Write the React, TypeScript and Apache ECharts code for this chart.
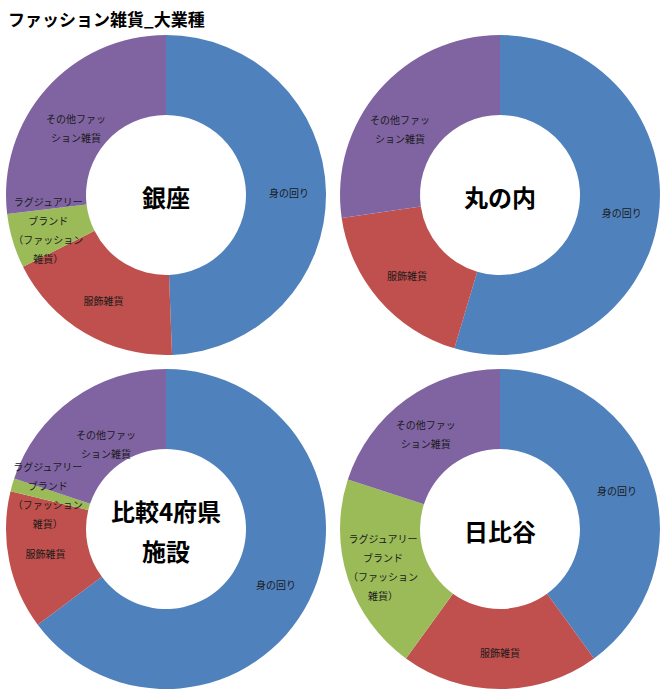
import React, { useEffect, useRef } from 'react';
import * as echarts from 'echarts';

// categories, clockwise from 12 o'clock
const categories = [
  '身の回り',
  '服飾雑貨',
  'ラグジュアリーブランド（ファッション雑貨）',
  'その他ファッション雑貨'
];
// labels as wrapped inside the slices
const sliceLabels = [
  '身の回り',
  '服飾雑貨',
  'ラグジュアリー\nブランド\n（ファッション\n雑貨）',
  'その他ファッ\nション雑貨'
];
const colors = ['#4F81BD', '#C0504D', '#9BBB59', '#8064A2'];

// share (%) per area
const ginza = [49.4, 18.2, 5.5, 26.9];
const marunouchi = [54.6, 18.1, 0, 27.3];
const hikaku = [64.8, 14.0, 1.3, 19.9];
const hibiya = [40.0, 20.0, 20.0, 20.0];

const areaNames = ['銀座', '丸の内', '比較4府県\n施設', '日比谷'];
const areaValues = [ginza, marunouchi, hikaku, hibiya];
const centers: [number, number][] = [
  [166, 195],
  [500, 195],
  [166, 529],
  [500, 529]
];
// the two-line "その他" label sits a bit off the slice middle in the original
const otherLabelOffsets: [number, number][] = [
  [2, 15],
  [-7, 14],
  [12, 15],
  [-2, 5]
];

const FONT = '"Noto Sans CJK JP", "Noto Sans", sans-serif';

const App: React.FC = () => {
  const chartRef = useRef<HTMLDivElement>(null);

  useEffect(() => {
    document.body.style.margin = '0';
    if (!chartRef.current) return;
    const chart = echarts.init(chartRef.current, null, { renderer: 'svg' });

    const series = areaValues.map((vals, i) => ({
      type: 'pie',
      name: areaNames[i],
      center: centers[i],
      radius: [80, 160],
      startAngle: 90,
      clockwise: true,
      silent: true,
      avoidLabelOverlap: false,
      labelLayout: { hideOverlap: false },
      label: {
        show: true,
        position: 'inside',
        color: '#1a1a1a',
        fontSize: 10,
        lineHeight: 19,
        align: 'center',
        fontFamily: FONT,
        formatter: (p: any) => sliceLabels[categories.indexOf(p.name)]
      },
      labelLine: { show: false },
      itemStyle: { borderWidth: 0 },
      data: vals
        .map((v, k) => ({
          name: categories[k],
          value: v,
          itemStyle: { color: colors[k] },
          label: k === 3 ? { offset: otherLabelOffsets[i] } : undefined
        }))
        .filter(d => d.value > 0)
    }));

    const option: echarts.EChartsOption = {
      animation: false,
      backgroundColor: '#ffffff',
      title: {
        text: 'ファッション雑貨_大業種',
        left: 3,
        top: 5,
        textStyle: {
          fontSize: 17,
          fontWeight: 'bold',
          color: '#000',
          fontFamily: FONT
        }
      },
      graphic: areaNames.map((n, i) => ({
        type: 'text',
        x: centers[i][0],
        y: centers[i][1] + 1,
        silent: true,
        style: {
          text: n,
          fill: '#000',
          font: `bold 24px ${FONT}`,
          lineHeight: 40,
          textAlign: 'center',
          textVerticalAlign: 'middle'
        }
      })),
      series: series as any
    };

    chart.setOption(option);

    return () => {
      chart.dispose();
    };
  }, []);

  return <div ref={chartRef} style={{ width: '669px', height: '700px' }} />;
};

export default App;
